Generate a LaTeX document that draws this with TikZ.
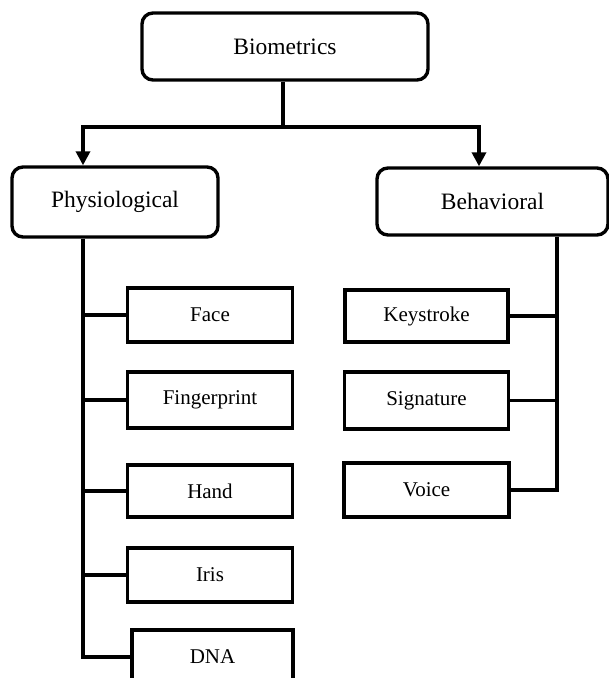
\documentclass[tikz,border=0pt]{standalone}
\usepackage{fontspec}
\setmainfont{Liberation Serif}
\usetikzlibrary{positioning, calc, arrows.meta}

\begin{document}
\begin{tikzpicture}[
    x=1pt, y=-1pt,
    >={Triangle[length=14pt, width=14pt]},
    main_box/.style={draw, line width=3.4pt, rounded corners=11pt, align=center,
        font=\fontsize{23.5}{27}\selectfont, inner sep=0pt},
    sub_box/.style={draw, line width=3.4pt, align=center,
        font=\fontsize{21}{24}\selectfont, inner sep=0pt,
        minimum width=165pt, minimum height=54pt},
    link_line/.style={line width=3.4pt},
    arrow_line/.style={->, line width=3.4pt}
]

    \useasboundingbox (0,0) rectangle (609,678);
    \clip (0,0) rectangle (609,678);

    % ======================================================================
    % OBERE EBENE
    % ======================================================================
    \node[main_box, minimum width=286pt, minimum height=67pt] (bio) at (285,46.5) {Biometrics};
    \node[main_box, minimum width=206pt, minimum height=70pt] (phys) at (115,202) {Physiological};
    \node[main_box, minimum width=231pt, minimum height=67pt] (beh) at (492.5,201.5) {Behavioral};

    % Verzweigung
    \coordinate (split) at (283,127);
    \coordinate (pjoin) at (83,127);
    \coordinate (barrow) at (479,127);
    \coordinate (bjoin) at (557,127);

    \draw[link_line] (bio.south -| split) -- (split);
    \draw[arrow_line] (split) -| (phys.north -| pjoin);
    \draw[arrow_line] (split) -| (beh.north -| barrow);

    % ======================================================================
    % PHYSIOLOGISCH
    % ======================================================================
    \node[sub_box] (face) at (210,315) {Face};
    \node[sub_box, minimum height=56pt] (finger) at (210,400) {Fingerprint};
    \node[sub_box, minimum height=52pt] (hand) at (210,491) {Hand};
    \node[sub_box] (iris) at (210,575) {Iris};
    \node[sub_box, minimum width=161pt] (dna) at (212.5,657) {DNA};

    \draw[link_line] (phys.south -| pjoin) |- (dna.west);
    \foreach \n in {face, finger, hand, iris}
        \draw[link_line] (\n.west) -- (\n.west -| pjoin);

    % ======================================================================
    % VERHALTEN
    % ======================================================================
    \node[sub_box, minimum width=163pt, minimum height=52pt] (key) at (426.5,316) {Keystroke};
    \node[sub_box, minimum width=164pt, minimum height=57pt] (sign) at (426.5,400.5) {Signature};
    \node[sub_box] (voice) at (426.5,490) {Voice};

    \draw[link_line] (beh.south -| bjoin) |- (voice.east);
    \foreach \n in {key, sign}
        \draw[link_line] (\n.east) -- (\n.east -| bjoin);

\end{tikzpicture}
\end{document}
